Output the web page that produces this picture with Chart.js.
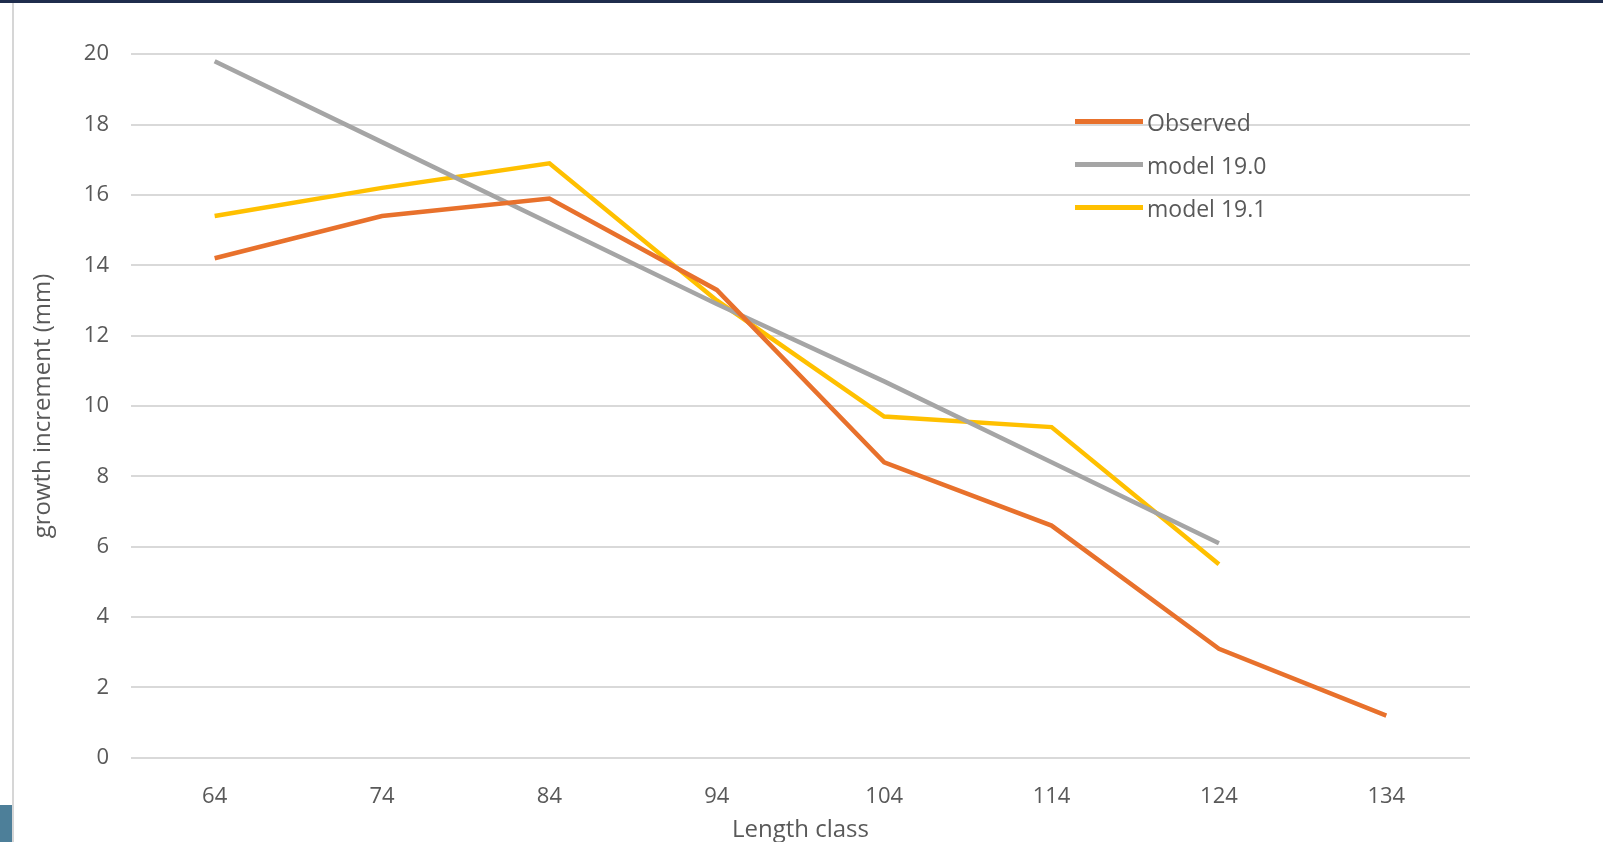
<!DOCTYPE html>
<html>
<head>
<meta charset="utf-8">
<script src="https://cdn.jsdelivr.net/npm/chart.js@4"></script>
<style>
  html, body { margin: 0; padding: 0; background: #fff; }
  #frame { position: absolute; left: 0; top: 0; width: 1603px; height: 842px; background: #fff; overflow: hidden; }
  #topbar { position: absolute; left: 0; top: 0; width: 1603px; height: 3px; background: #1f2d4d; }
  #leftline { position: absolute; left: 12px; top: 3px; width: 2px; height: 839px; background: #d6d6d6; }
  #blue { position: absolute; left: 0; top: 805px; width: 12px; height: 37px; background: #4d7f99; }
  #wrap { position: absolute; left: 25px; top: 19px; width: 1448px; height: 830px; }
  #legend { position: absolute; left: 1075px; top: 100px; font-family: "Open Sans", sans-serif; font-size: 23px; color: #595959; }
  .item { display: flex; align-items: center; height: 43px; }
  .sw { width: 68px; height: 5px; margin-right: 4px; }
</style>
</head>
<body>
<div id="frame">
  <div id="topbar"></div>
  <div id="leftline"></div>
  <div id="blue"></div>
  <div id="wrap"><canvas id="chart"></canvas></div>
  <div id="legend"></div>
</div>
<script>
"use strict";
const lengthClasses = ["64", "74", "84", "94", "104", "114", "124", "134"];
const observed = [14.2, 15.4, 15.9, 13.3, 8.4, 6.6, 3.1, 1.2];
const model190 = [19.8, 17.5, 15.2, 12.9, 10.7, 8.4, 6.1, null];
const model191 = [15.4, 16.2, 16.9, 13.0, 9.7, 9.4, 5.5, null];
const seriesNames = ["Observed", "model 19.0", "model 19.1"];
const seriesColors = ["#E8712C", "#A5A5A5", "#FFC000"];

const canvas = document.getElementById("chart");
canvas.width = 1448; canvas.height = 830;
canvas.style.width = "1448px"; canvas.style.height = "830px";

const tickFont = { family: "Open Sans", size: 22 };
new Chart(canvas, {
    type: "line",
    data: {
        labels: lengthClasses,
        datasets: [observed, model190, model191].map((d, i) => ({
            label: seriesNames[i],
            data: d,
            borderColor: seriesColors[i],
            backgroundColor: seriesColors[i],
            borderWidth: 4.5,
            pointRadius: 0,
            tension: 0,
            spanGaps: false
        }))
    },
    options: {
        responsive: false,
        animation: false,
        layout: { padding: { top: 30, right: 3, bottom: 0, left: 0 } },
        plugins: { legend: { display: false }, tooltip: { enabled: false } },
        scales: {
            x: {
                offset: true,
                grid: { display: false },
                border: { display: false },
                ticks: { color: "#595959", font: tickFont, padding: 18 },
                title: { display: true, text: "Length class", color: "#595959", font: { family: "Open Sans", size: 24 }, padding: { top: -12 } }
            },
            y: {
                min: 0, max: 20,
                ticks: { stepSize: 2, color: "#595959", font: tickFont, padding: 22 },
                grid: { color: "#d9d9d9", lineWidth: 2, drawTicks: false },
                border: { display: false },
                title: { display: true, text: "growth increment (mm)", color: "#595959", font: { family: "Open Sans", size: 24 } }
            }
        }
    }
});

const legend = document.getElementById("legend");
seriesNames.forEach((name, i) => {
    legend.insertAdjacentHTML("beforeend",
        `<div class="item"><div class="sw" style="background:${seriesColors[i]}"></div>${name}</div>`);
});
</script>
</body>
</html>
